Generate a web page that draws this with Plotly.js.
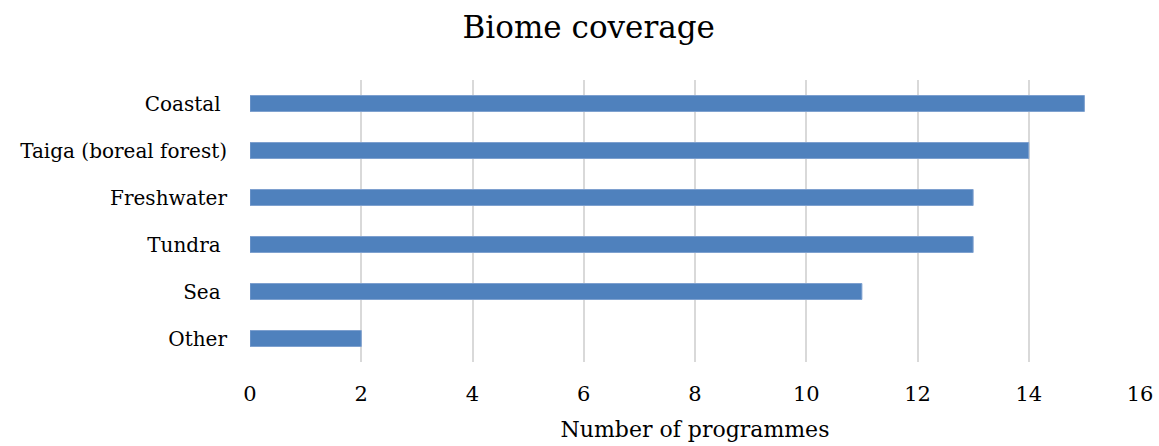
<!DOCTYPE html>
<html><head><meta charset="utf-8">
<script src="https://cdn.plot.ly/plotly-3.0.1.min.js"></script>
<style>html,body{margin:0;padding:0;background:#fff}#chart{width:1159px;height:446px}</style>
</head><body><div id="chart"></div>
<script>
const categories = ["Coastal\u00a0", "Taiga (boreal forest)", "Freshwater", "Tundra\u00a0", "Sea\u00a0", "Other"];
const programmes = [15, 14, 13, 13, 11, 2];
const xTicks = [0, 2, 4, 6, 8, 10, 12, 14, 16];
const FONT = "DejaVu Serif, serif";
Plotly.newPlot("chart", [{
  type: "bar", orientation: "h", x: programmes, y: categories,
  marker: {color: "#4f81bd", line: {color: "#7ea0cf", width: 1}},
  hoverinfo: "skip"
}], {
  width: 1159, height: 446,
  margin: {l: 250, r: 19, t: 80, b: 84},
  paper_bgcolor: "#fff", plot_bgcolor: "#fff",
  bargap: 0.66,
  title: {text: "Biome coverage", font: {family: FONT, size: 31, color: "#000"}, x: 0.508, xanchor: "center", y: 0.94, yanchor: "middle"},
  xaxis: {range: [0, 16], tickvals: xTicks, showgrid: true, gridcolor: "#d9d9d9", gridwidth: 2,
    zeroline: false, showline: false, ticks: "", ticklabelstandoff: 17,
    tickfont: {family: FONT, size: 21, color: "#000"},
    title: {text: "Number of programmes", font: {family: FONT, size: 22, color: "#000"}, standoff: 16}},
  yaxis: {autorange: "reversed", showgrid: false, zeroline: false, showline: false, ticks: "",
    ticklabelstandoff: 22, tickfont: {family: FONT, size: 20, color: "#000"}},
  showlegend: false
}, {displayModeBar: false, staticPlot: true});
</script></body></html>
